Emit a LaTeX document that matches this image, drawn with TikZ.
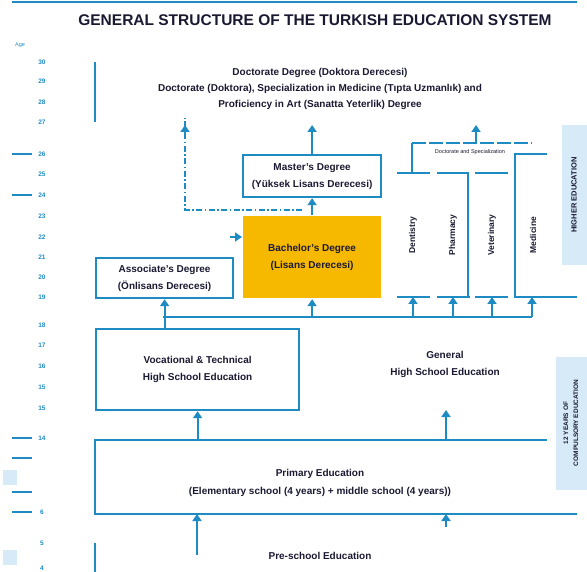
\documentclass[tikz,border=0pt]{standalone}
\usepackage{fontspec}
\setmainfont{Liberation Sans}
\usetikzlibrary{arrows.meta}

\definecolor{edublue}{RGB}{30,140,195}
\definecolor{edugold}{RGB}{247,184,0}
\definecolor{edupanel}{RGB}{214,234,248}
\definecolor{edutext}{RGB}{25,25,50}

\tikzset{
    line/.style={edublue, line width=2.2pt},
    up/.style={line, -{Triangle[width=9pt,length=7pt]}},
    dashdot/.style={line, dash pattern=on 6pt off 2.5pt on 1.5pt off 2.5pt},
    txt/.style={font=\fontsize{10}{17}\selectfont\bfseries, text=edutext, align=center},
    small/.style={font=\fontsize{5.5}{7}\selectfont, text=edutext},
    agenum/.style={font=\fontsize{6.5}{8}\selectfont\bfseries, text=edublue},
    box/.style={line, draw, anchor=north west, inner sep=0pt},
    panel/.style={fill=edupanel, draw=none}
}

\begin{document}
\begin{tikzpicture}[x=1pt, y=-1pt]
    \useasboundingbox (0,0) rectangle (587,572);

    % top rule and title
    \draw[line] (12,2) -- (577,2);
    \node[font=\fontsize{15.5}{18}\selectfont\bfseries, text=edutext] (title) at (315,20)
        {GENERAL STRUCTURE OF THE TURKISH EDUCATION SYSTEM};

    % age scale
    \node[agenum, font=\fontsize{5.5}{7}\selectfont] (age) at (20,45) {Age};
    \foreach \y/\a in {62/30, 81/29, 102/28, 122/27, 154/26, 174/25, 195/24, 216/23,
                       237/22, 257/21, 277/20, 297/19, 325/18, 345/17, 366/16,
                       387/15, 408/15, 438/14, 512/6, 543/5, 568/4}
        \node[agenum] at (42,\y) {\a};
    \foreach \y in {154, 195, 438, 458, 492, 512}
        \draw[line] (12,\y) -- (32,\y);
    \fill[edupanel] (3,470) rectangle (17,485);
    \fill[edupanel] (3,550) rectangle (17,565);

    % doctorate
    \draw[line] (95,62) -- (95,122);
    \node[txt, font=\fontsize{10}{16}\selectfont\bfseries] (doctorate) at (320,89)
        {Doctorate Degree (Doktora Derecesi)\\
         Doctorate (Doktora), Specialization in Medicine (Tıpta Uzmanlık) and\\
         Proficiency in Art (Sanatta Yeterlik) Degree};
    \coordinate (doc-l) at (185,125);
    \coordinate (doc-r) at (476,125);

    % degrees
    \node[box, minimum width=138pt, minimum height=42pt] (master) at (242,154) {};
    \node[txt] at (master.center) {Master's Degree\\(Yüksek Lisans Derecesi)};
    \node[box, draw=none, fill=edugold, minimum width=138pt, minimum height=82pt] (bachelor) at (242,215) {};
    \node[txt] at (bachelor.center) {Bachelor's Degree\\(Lisans Derecesi)};
    \node[box, minimum width=137pt, minimum height=40pt] (assoc) at (95,257) {};
    \node[txt] at (assoc.center) {Associate's Degree\\(Önlisans Derecesi)};

    \draw[up] (master.north) -- (master.north |- doc-l);
    \draw[up] (bachelor.north) -- (master.south);
    \coordinate (dd-s) at (302,210);
    \draw[dashdot] (dd-s) -- (185,210) -- ([yshift=7pt]doc-l);
    \draw[up] (185,133) -- (doc-l);
    \coordinate (assoc-link) at (230,237);
    \draw[up] (assoc-link) -- (bachelor.west |- assoc-link);

    % medical faculties
    \draw[line] (397,173) -- (430,173);
    \draw[line] (437,173) -- (468,173) -- (468,297);
    \draw[line] (475,173) -- (508,173);
    \draw[line] (547,154) -- (515,154) -- (515,297) -- (577,297);
    \foreach \xa/\xb in {397/430, 437/470, 475/508}
        \draw[line] (\xa,297) -- (\xb,297);
    \draw[line] (412,173) -- (412,143);
    \draw[line, dash pattern=on 14pt off 3pt] (412,143) -- (532,143);
    \node[small] (spec) at (470,152) {Doctorate and Specialization};
    \draw[up] (476,143) -- (doc-r);
    \foreach \x/\name in {413/Dentistry, 453/Pharmacy, 492/Veterinary, 533/Medicine}
        \node[txt, rotate=90, font=\fontsize{8.5}{10}\selectfont\bfseries] at (\x,235) {\name};

    % high school
    \node[box, minimum width=203pt, minimum height=81pt] (voc) at (95,328) {};
    \node[txt] at (voc.center) {Vocational \& Technical\\High School Education};
    \node[txt] (general) at (445,364) {General\\High School Education};
    \coordinate (gen-in) at (446,410);

    \coordinate (bus-l) at (163,317);
    \coordinate (bus-r) at (532,317);
    \draw[line] (bus-l) -- (bus-r);
    \draw[up] (assoc.south |- voc.north) -- (assoc.south);
    \draw[up] (bachelor.south |- bus-l) -- (bachelor.south);
    \foreach \x in {413, 453, 492, 532}
        \draw[up] (\x,317) -- (\x,297);

    % primary
    \draw[line] (547,440) -- (95,440) -- (95,514) -- (577,514);
    \node[txt, font=\fontsize{10}{18}\selectfont\bfseries] (primary) at (320,483)
        {Primary Education\\(Elementary school (4 years) + middle school (4 years))};
    \draw[up] (voc.south |- 0,440) -- (voc.south);
    \draw[up] (446,440) -- (gen-in);

    % pre-school
    \draw[line] (95,543) -- (95,572);
    \node[txt] (preschool) at (320,556) {Pre-school Education};
    \draw[up] (197,555) -- (197,514);
    \draw[up] (446,527) -- (446,514);

    % side panels
    \fill[panel] (562,125) rectangle (587,265);
    \node[txt, rotate=90, font=\fontsize{7.5}{10}\selectfont\bfseries] at (574,195) {HIGHER EDUCATION};
    \fill[panel] (556,357) rectangle (587,490);
    \node[txt, rotate=90, font=\fontsize{6.5}{10}\selectfont\bfseries] at (571,423)
        {12 YEARS OF\\COMPULSORY EDUCATION};
\end{tikzpicture}
\end{document}
